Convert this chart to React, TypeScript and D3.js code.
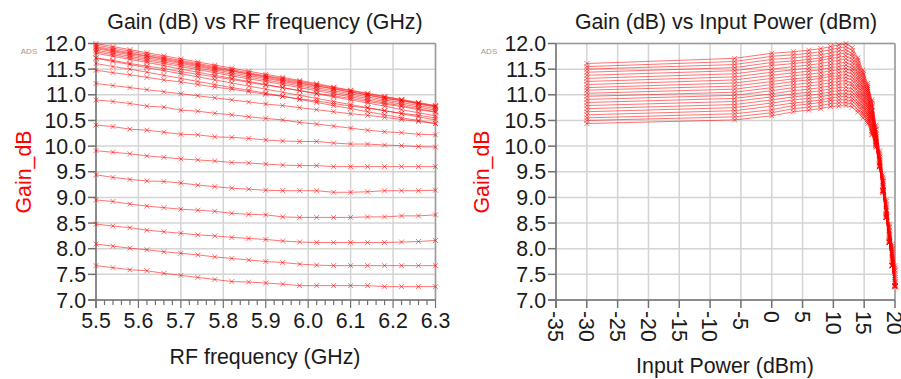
import React from 'react';
import * as d3 from 'd3';

// RF frequency sweep (GHz)
const freqs = [5.5, 5.54, 5.58, 5.62, 5.66, 5.7, 5.74, 5.78, 5.82, 5.86, 5.9, 5.94, 5.98, 6.02, 6.06, 6.1, 6.14, 6.18, 6.22, 6.26, 6.3];
// Input power sweep (dBm)
const powers = [-30, -6.02, 0, 3.52, 6.02, 7.96, 9.54, 10.88, 12.04, 13.06, 13.98, 14.81, 15.56, 16.26, 16.9, 17.5, 18.06, 18.59, 19.08, 19.55, 20];

// Gain (dB) vs frequency, one array per input power
const gainPm30 = [11.61, 11.55, 11.50, 11.44, 11.38, 11.32, 11.26, 11.20, 11.14, 11.09, 11.03, 10.97, 10.91, 10.85, 10.79, 10.73, 10.67, 10.61, 10.55, 10.50, 10.44];
const gainPm6 = [11.71, 11.65, 11.59, 11.53, 11.47, 11.41, 11.35, 11.29, 11.23, 11.17, 11.11, 11.05, 10.99, 10.93, 10.87, 10.81, 10.75, 10.69, 10.63, 10.57, 10.51];
const gainP0 = [11.81, 11.75, 11.69, 11.63, 11.57, 11.50, 11.44, 11.38, 11.32, 11.26, 11.20, 11.14, 11.08, 11.02, 10.96, 10.90, 10.84, 10.78, 10.71, 10.65, 10.59];
const gainP3 = [11.84, 11.78, 11.72, 11.66, 11.61, 11.55, 11.49, 11.43, 11.37, 11.31, 11.26, 11.20, 11.14, 11.08, 11.02, 10.96, 10.90, 10.84, 10.79, 10.73, 10.67];
const gainP6 = [11.87, 11.81, 11.75, 11.69, 11.64, 11.58, 11.52, 11.46, 11.40, 11.34, 11.29, 11.23, 11.17, 11.11, 11.05, 10.99, 10.93, 10.87, 10.82, 10.76, 10.70];
const gainP8 = [11.90, 11.84, 11.78, 11.72, 11.67, 11.61, 11.55, 11.49, 11.43, 11.37, 11.32, 11.26, 11.20, 11.14, 11.08, 11.02, 10.96, 10.90, 10.85, 10.79, 10.73];
const gainP9 = [11.94, 11.88, 11.82, 11.76, 11.71, 11.65, 11.59, 11.53, 11.47, 11.41, 11.36, 11.30, 11.24, 11.18, 11.12, 11.06, 11.00, 10.94, 10.89, 10.83, 10.77];
const gainP11 = [11.97, 11.91, 11.85, 11.79, 11.73, 11.67, 11.61, 11.55, 11.49, 11.43, 11.37, 11.32, 11.26, 11.20, 11.14, 11.08, 11.02, 10.96, 10.90, 10.84, 10.78];
const gainP12 = [12.00, 11.94, 11.88, 11.82, 11.76, 11.70, 11.64, 11.58, 11.52, 11.46, 11.40, 11.34, 11.28, 11.22, 11.15, 11.09, 11.03, 10.97, 10.91, 10.85, 10.79];
const gainP13 = [11.92, 11.86, 11.80, 11.75, 11.69, 11.63, 11.57, 11.51, 11.46, 11.40, 11.34, 11.28, 11.22, 11.17, 11.11, 11.05, 10.99, 10.93, 10.88, 10.82, 10.76];
const gainP14 = [11.72, 11.67, 11.61, 11.56, 11.51, 11.45, 11.40, 11.35, 11.30, 11.24, 11.19, 11.14, 11.08, 11.03, 10.98, 10.93, 10.87, 10.82, 10.77, 10.71, 10.66];
const gainP148 = [11.48, 11.43, 11.39, 11.34, 11.29, 11.25, 11.20, 11.15, 11.11, 11.06, 11.01, 10.97, 10.92, 10.88, 10.83, 10.78, 10.74, 10.69, 10.64, 10.60, 10.55];
const gainP156 = [11.22, 11.18, 11.14, 11.10, 11.06, 11.02, 10.98, 10.94, 10.90, 10.86, 10.82, 10.79, 10.75, 10.71, 10.67, 10.63, 10.60, 10.56, 10.52, 10.48, 10.44];
const gainP163 = [10.90, 10.87, 10.83, 10.78, 10.76, 10.70, 10.68, 10.64, 10.61, 10.57, 10.54, 10.51, 10.46, 10.43, 10.39, 10.35, 10.31, 10.28, 10.26, 10.23, 10.22];
const gainP169 = [10.41, 10.38, 10.33, 10.31, 10.27, 10.23, 10.22, 10.18, 10.17, 10.15, 10.12, 10.10, 10.09, 10.09, 10.06, 10.04, 10.04, 10.02, 10.01, 9.99, 9.98];
const gainP175 = [9.91, 9.88, 9.85, 9.81, 9.78, 9.75, 9.73, 9.71, 9.68, 9.67, 9.65, 9.63, 9.62, 9.62, 9.60, 9.60, 9.60, 9.60, 9.60, 9.60, 9.60];
const gainP181 = [9.44, 9.39, 9.35, 9.32, 9.31, 9.28, 9.24, 9.21, 9.18, 9.16, 9.14, 9.13, 9.13, 9.13, 9.10, 9.10, 9.11, 9.13, 9.13, 9.13, 9.14];
const gainP186 = [8.95, 8.92, 8.87, 8.83, 8.80, 8.77, 8.75, 8.73, 8.69, 8.67, 8.66, 8.62, 8.61, 8.61, 8.61, 8.61, 8.62, 8.62, 8.64, 8.64, 8.66];
const gainP191 = [8.48, 8.44, 8.41, 8.36, 8.33, 8.30, 8.27, 8.25, 8.22, 8.20, 8.18, 8.15, 8.13, 8.12, 8.12, 8.12, 8.12, 8.12, 8.13, 8.14, 8.16];
const gainP196 = [8.09, 8.05, 8.01, 7.98, 7.94, 7.91, 7.88, 7.84, 7.81, 7.78, 7.75, 7.73, 7.70, 7.68, 7.67, 7.67, 7.67, 7.67, 7.67, 7.67, 7.67];
const gainP20 = [7.67, 7.63, 7.59, 7.57, 7.52, 7.48, 7.44, 7.40, 7.36, 7.35, 7.33, 7.31, 7.28, 7.28, 7.28, 7.28, 7.28, 7.26, 7.26, 7.26, 7.26];

const gainRows = [gainPm30, gainPm6, gainP0, gainP3, gainP6, gainP8, gainP9, gainP11, gainP12, gainP13, gainP14,
  gainP148, gainP156, gainP163, gainP169, gainP175, gainP181, gainP186, gainP191, gainP196, gainP20];

const yTicks = [7.0, 7.5, 8.0, 8.5, 9.0, 9.5, 10.0, 10.5, 11.0, 11.5, 12.0];
const freqTicks = [5.5, 5.6, 5.7, 5.8, 5.9, 6.0, 6.1, 6.2, 6.3];
const powerTicks = [-35, -30, -25, -20, -15, -10, -5, 0, 5, 10, 15, 20];

const FONT = "'Liberation Sans', Arial, sans-serif";
const FS = 21.33;
const RED = 'rgba(255,0,0,0.55)';
const GRID = '#d4d4d4';

type Pt = [number, number];

function Series({ pts, x, y }: { pts: Pt[]; x: d3.ScaleLinear<number, number>; y: d3.ScaleLinear<number, number> }) {
  const line = d3.line<Pt>().x(d => x(d[0])).y(d => y(d[1]));
  return (
    <g>
      <path d={line(pts) || ''} fill="none" stroke={RED} strokeWidth={1} />
      {pts.map((d, i) => (
        <path key={i} transform={`translate(${x(d[0])},${y(d[1])})`} d="M-2.5,-2.5L2.5,2.5M-2.5,2.5L2.5,-2.5" stroke={RED} strokeWidth={1} />
      ))}
    </g>
  );
}

export default function App() {
  const Y0 = 43.5, Y1 = 300;
  const y = d3.scaleLinear().domain([7, 12]).range([Y1, Y0]);
  const xf = d3.scaleLinear().domain([5.5, 6.3]).range([96, 435.5]);
  const xp = d3.scaleLinear().domain([-35, 20]).range([556, 895]);
  const fmt = d3.format('.1f');

  const leftSeries: Pt[][] = gainRows.map(row => row.map((g, i) => [freqs[i], g] as Pt));
  const rightSeries: Pt[][] = freqs.map((_, fi) => powers.map((p, pi) => [p, gainRows[pi][fi]] as Pt));
  const minorFreq = d3.range(0, 41).map(i => 5.5 + i * 0.02);

  const frame = (x0: number, x1: number) => (
    <g>
      <line x1={x0} x2={x1} y1={Y0} y2={Y0} stroke="#9a9a9a" strokeWidth={1.5} />
      <line x1={x1} x2={x1} y1={Y0} y2={Y1} stroke="#9a9a9a" strokeWidth={1.5} />
      <line x1={x0} x2={x0} y1={Y0} y2={Y1 + 8} stroke="#707070" strokeWidth={1.5} />
      <line x1={x0 - 8} x2={x1} y1={Y1} y2={Y1} stroke="#707070" strokeWidth={1.5} />
    </g>
  );

  const yAxis = (x0: number, x1: number, labelX: number) => (
    <g>
      {yTicks.map(t => (
        <g key={t}>
          <line x1={x0} x2={x1} y1={y(t)} y2={y(t)} stroke={GRID} strokeWidth={1.5} />
          <line x1={x0 - 8} x2={x0} y1={y(t)} y2={y(t)} stroke="#707070" strokeWidth={1.5} />
          <text x={labelX} y={y(t)} dy="0.36em" textAnchor="end" fontFamily={FONT} fontSize={FS} fill="#1a1a1a">{fmt(t)}</text>
        </g>
      ))}
    </g>
  );

  return (
    <svg width={901} height={379} style={{ position: 'absolute', left: 0, top: 0, background: '#fff' }}>
      <rect width={901} height={379} fill="#fff" />
      {/* LEFT PANEL */}
      <text x={265} y={29} textAnchor="middle" fontFamily={FONT} fontSize={FS} fill="#1a1a1a">Gain (dB) vs RF frequency (GHz)</text>
      <text x={29} y={54} textAnchor="middle" fontFamily={FONT} fontSize={8} fill="#999">ADS</text>
      {freqTicks.map(t => (
        <line key={t} x1={xf(t)} x2={xf(t)} y1={Y0} y2={Y1} stroke={GRID} strokeWidth={1.5} />
      ))}
      {yAxis(96, 435.5, 86)}
      {frame(96, 435.5)}
      {minorFreq.map((t, i) => (
        <line key={i} x1={xf(t)} x2={xf(t)} y1={Y1} y2={Y1 + (i % 5 === 0 ? 8 : 5)} stroke="#707070" strokeWidth={1.2} />
      ))}
      {freqTicks.map(t => (
        <text key={t} x={xf(t)} y={328} textAnchor="middle" fontFamily={FONT} fontSize={FS} fill="#1a1a1a">{fmt(t)}</text>
      ))}
      <text x={265} y={364} textAnchor="middle" fontFamily={FONT} fontSize={FS} fill="#1a1a1a">RF frequency (GHz)</text>
      <text transform={`translate(31,172) rotate(-90)`} textAnchor="middle" fontFamily={FONT} fontSize={FS} fill="#ff0000">Gain_dB</text>
      <g>
        {leftSeries.map((s, i) => <Series key={i} pts={s} x={xf} y={y} />)}
      </g>

      {/* RIGHT PANEL */}
      <text x={726} y={29} textAnchor="middle" fontFamily={FONT} fontSize={FS} fill="#1a1a1a">Gain (dB) vs Input Power (dBm)</text>
      <text x={489} y={54} textAnchor="middle" fontFamily={FONT} fontSize={8} fill="#999">ADS</text>
      {powerTicks.map(t => (
        <line key={t} x1={xp(t)} x2={xp(t)} y1={Y0} y2={Y1} stroke={GRID} strokeWidth={1.5} />
      ))}
      {yAxis(556, 895, 546)}
      {frame(556, 895)}
      {powerTicks.map(t => (
        <line key={t} x1={xp(t)} x2={xp(t)} y1={Y1} y2={Y1 + 8} stroke="#707070" strokeWidth={1.5} />
      ))}
      {powerTicks.map(t => (
        <text key={t} transform={`translate(${xp(t)},311) rotate(90)`} dy="0.36em" textAnchor="start" fontFamily={FONT} fontSize={FS} fill="#1a1a1a">{t}</text>
      ))}
      <text x={725} y={373} textAnchor="middle" fontFamily={FONT} fontSize={FS} fill="#1a1a1a">Input Power (dBm)</text>
      <text transform={`translate(489,172) rotate(-90)`} textAnchor="middle" fontFamily={FONT} fontSize={FS} fill="#ff0000">Gain_dB</text>
      <g>
        {rightSeries.map((s, i) => <Series key={i} pts={s} x={xp} y={y} />)}
      </g>
    </svg>
  );
}
